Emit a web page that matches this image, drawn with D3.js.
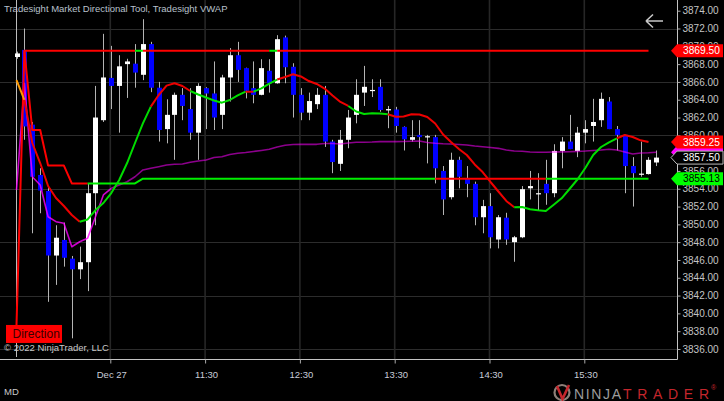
<!DOCTYPE html>
<html><head><meta charset="utf-8">
<script src="https://cdn.jsdelivr.net/npm/d3@7"></script>
<style>
html,body{margin:0;padding:0;background:#000;}
svg{display:block;}
text{font-family:"Liberation Sans",Arial,sans-serif;}
</style></head><body>
<svg id="chart" width="724" height="401"></svg>
<script>
// ---------- DATA ----------
const title = "Tradesight Market Directional Tool, Tradesight VWAP";
const xTickBars = [12, 24, 36, 48, 60, 72];
const xTickLabels = ["Dec 27", "11:30", "12:30", "13:30", "14:30", "15:30"];
const yTickValues = [3836,3838,3840,3842,3844,3846,3848,3850,3852,3854,3856,3858,3860,3862,3864,3866,3868,3870,3872,3874];
const yGridValues = [3836,3842,3848,3854,3860,3866,3872];

const opens = [3868.8,3869.6,3861.2,3855.55,3853.75,3846.5,3848.25,3846.15,3844.95,3845.75,
3853.5,3861.7,3866.45,3865.55,3868.0,3868.05,3866.8,3870.25,3865.35,3860.7,
3862.3,3864.55,3862.95,3860.3,3865.3,3864.7,3862.3,3866.5,3869.0,3867.55,
3865.3,3864.55,3867.25,3865.85,3871.0,3867.7,3864.55,3862.55,3863.5,3864.55,
3859.3,3856.8,3859.5,3862.3,3864.8,3865.0,3865.45,3862.8,3862.9,3860.95,
3859.5,3860.05,3859.9,3859.8,3856.0,3853.05,3857.25,3855.15,3854.55,3850.8,
3852.05,3848.3,3850.75,3848.0,3848.55,3854.05,3853.5,3854.55,3853.5,3858.25,
3859.3,3858.25,3860.3,3861.05,3861.7,3863.8,3860.7,3860.05,3856.55,3855.6,
3855.65,3856.95];
const highs = [3869.4,3872.0,3861.5,3856.3,3854.2,3849.9,3850.2,3846.45,3847.5,3854.6,
3865.55,3871.4,3870.05,3869.0,3868.6,3870.25,3873.05,3870.5,3866.0,3864.05,
3864.8,3865.3,3865.3,3865.85,3865.4,3868.3,3866.8,3869.8,3870.5,3867.6,
3868.3,3868.55,3868.55,3871.25,3871.2,3868.1,3865.3,3864.8,3865.3,3865.55,
3859.5,3860.6,3862.85,3866.3,3867.8,3866.3,3866.3,3863.3,3863.2,3861.0,
3861.7,3861.7,3860.05,3860.05,3856.55,3858.05,3857.6,3856.55,3854.8,3852.75,
3853.5,3851.05,3851.3,3848.7,3854.3,3856.0,3855.75,3857.25,3859.0,3859.8,
3862.3,3860.95,3861.7,3864.1,3864.8,3864.3,3861.05,3860.05,3857.55,3859.3,
3857.55,3858.3];
const lows = [3868.6,3859.5,3849.0,3851.25,3841.3,3843.2,3845.25,3837.2,3843.85,3842.5,
3849.9,3861.5,3862.95,3860.3,3864.2,3865.35,3866.2,3864.85,3859.3,3859.1,
3857.25,3861.7,3859.5,3857.25,3860.7,3860.6,3860.7,3863.8,3866.0,3864.15,
3863.6,3864.5,3864.8,3865.8,3865.85,3862.0,3861.7,3861.7,3862.95,3858.7,
3855.75,3856.0,3858.55,3861.35,3863.3,3864.3,3862.65,3860.8,3860.3,3858.3,
3859.3,3858.55,3856.85,3854.6,3851.05,3852.8,3854.05,3853.05,3849.9,3849.0,
3847.3,3847.3,3847.7,3845.8,3848.45,3852.8,3851.6,3852.2,3853.05,3856.3,
3858.45,3857.55,3859.1,3859.3,3860.95,3860.7,3858.3,3853.5,3852.0,3855.35,
3855.6,3856.55];
const closes = [3869.2,3861.0,3855.35,3853.8,3846.5,3848.5,3846.25,3844.95,3845.75,3853.5,
3862.0,3866.5,3865.55,3867.75,3868.3,3867.05,3870.25,3865.35,3860.6,3862.3,
3864.55,3863.3,3860.3,3865.55,3864.7,3862.0,3866.5,3869.0,3867.35,3865.0,
3864.55,3867.55,3865.85,3870.8,3867.65,3864.55,3862.55,3863.85,3864.55,3859.3,
3857.0,3859.5,3862.0,3864.55,3865.45,3865.1,3862.85,3862.95,3861.05,3859.55,
3859.8,3859.8,3859.9,3856.3,3852.8,3857.25,3855.35,3854.55,3850.8,3852.05,
3848.55,3850.8,3848.3,3848.55,3853.95,3854.3,3853.5,3853.5,3858.25,3859.3,
3858.45,3860.3,3860.7,3861.5,3864.1,3860.7,3860.05,3856.55,3855.75,3855.7,
3857.25,3857.5];

// Directional tool: trend line (smooth)
const trendLine = [3866.2,3863.97,3859.14,3856.89,3854.31,3852.96,3852.06,3851.05,3850.30,3850.55,
3851.61,3852.40,3853.52,3854.98,3856.89,3859.14,3861.35,3863.22,3864.53,3865.58,
3865.85,3865.54,3864.98,3864.59,3864.25,3863.91,3863.67,3863.97,3864.48,3864.90,
3864.90,3865.28,3865.82,3866.27,3866.55,3866.86,3866.61,3866.10,3865.77,3865.26,
3864.48,3863.75,3863.30,3862.68,3862.40,3862.48,3862.45,3862.37,3862.09,3862.12,
3862.36,3862.34,3862.06,3861.33,3860.09,3859.25,3858.47,3857.79,3856.73,3855.88,
3854.76,3853.69,3852.63,3851.92,3851.95,3851.69,3851.58,3851.50,3852.21,3852.93,
3853.97,3855.04,3856.33,3857.79,3858.69,3859.22,3859.67,3860.04,3859.81,3859.44,
3859.25];
// Directional tool: stop / level line
const levelLine = [null,3869.5,3860.6,3860.6,3856.6,3856.6,3856.6,3854.6,3854.6,3854.6,
3854.6,3854.6,3854.6,3854.6,3854.6,3854.6,3855.13,3855.13,3855.13,3855.13,
3855.13,3855.13,3855.13,3855.13,3855.13,3855.13,3855.13,3855.13,3855.13,3855.13,
3855.13,3855.13,3855.13,3855.13,3855.13,3855.13,3855.13,3855.13,3855.13,3855.13,
3855.13,3855.13,3855.13,3855.13,3855.13,3855.13,3855.13,3855.13,3855.13,3855.13,
3855.13,3855.13,3855.13,3855.13,3855.13,3855.13,3855.13,3855.13,3855.13,3855.13,
3855.13,3855.13,3855.13,3855.13,3855.13,3855.13,3855.13,3855.13,3855.13,3855.13,
3855.13,3855.13,3855.13,3855.13,3855.13,3855.13,3855.13,3855.13,3855.13,3855.13,
3855.13];
// Directional tool: direction line
const directionLine = [3838.7,3869.5,3869.5,3869.5,3869.5,3869.5,3869.5,3869.5,3869.5,3869.5,
3869.5,3869.5,3869.5,3869.5,3869.5,3869.5,3869.5,3869.5,3869.5,3869.5,
3869.5,3869.5,3869.5,3869.5,3869.5,3869.5,3869.5,3869.5,3869.5,3869.5,
3869.5,3869.5,3869.5,3869.5,3869.5,3869.5,3869.5,3869.5,3869.5,3869.5,
3869.5,3869.5,3869.5,3869.5,3869.5,3869.5,3869.5,3869.5,3869.5,3869.5,
3869.5,3869.5,3869.5,3869.5,3869.5,3869.5,3869.5,3869.5,3869.5,3869.5,
3869.5,3869.5,3869.5,3869.5,3869.5,3869.5,3869.5,3869.5,3869.5,3869.5,
3869.5,3869.5,3869.5,3869.5,3869.5,3869.5,3869.5,3869.5,3869.5,3869.5,
3869.5];
// VWAP
const vwap = [3853.86,3865.85,3855.35,3854.42,3850.86,3850.30,3850.12,3847.49,3848.05,3848.44,
3850.86,3853.30,3854.05,3854.42,3854.79,3855.35,3856.11,3856.30,3856.48,3856.67,
3856.75,3856.78,3856.97,3857.12,3857.23,3857.51,3857.60,3857.85,3857.98,3858.07,
3858.19,3858.30,3858.43,3858.69,3858.88,3858.97,3858.99,3858.99,3858.99,3859.08,
3859.08,3859.03,3859.14,3859.22,3859.23,3859.25,3859.29,3859.29,3859.29,3859.31,
3859.34,3859.36,3859.20,3859.11,3859.06,3859.03,3858.97,3858.92,3858.80,3858.72,
3858.63,3858.54,3858.35,3858.24,3858.21,3858.13,3858.10,3858.10,3858.13,3858.14,
3858.16,3858.20,3858.24,3858.30,3858.35,3858.43,3858.35,3858.13,3857.90,3858.02,
3858.05,3858.10];

// colour runs [fromBar, toBar, colour]
const trendRuns = [[0,1,"#ff9900"],[1,8,"#ee0000"],[8,17,"#00dd00"],[17,22,"#ee0000"],[22,29,"#00dd00"],
  [29,30,"#ee0000"],[30,33,"#00dd00"],[33,42,"#ee0000"],[42,47,"#00dd00"],[47,63,"#ee0000"],
  [63,76,"#00dd00"],[76,80,"#ee0000"]];
const levelRuns = [[1,9,"#ff0000"],[9,53,"#00ee00"],[53,67,"#ff0000"],[67,80,"#00ee00"]];
const directionRuns = [[0,15,"#ff0000"],[15,16,"#00ee00"],[16,32,"#ff0000"],[32,33,"#00ee00"],[33,80,"#ff0000"]];
const vwapRuns = [[0,12,"#ff00ff",0.8],[12,81,"#ff00ff",0.55]];

// ---------- CHART ----------
const W = 724, H = 401, plotR = 677, plotB = 359;
const svg = d3.select("#chart");
svg.append("rect").attr("width", W).attr("height", H).attr("fill", "#000");

const nBars = closes.length;
const x = d3.scaleLinear().domain([0, nBars - 1]).range([16.5, 656.4]);
const y = d3.scaleLinear().domain([3836, 3874]).range([349, 10.7]);

svg.append("defs").append("clipPath").attr("id", "plotclip")
  .append("rect").attr("x", 0).attr("y", 0).attr("width", plotR).attr("height", plotB);
const plot = svg.append("g").attr("clip-path", "url(#plotclip)");

// grid
plot.append("g").selectAll("line").data(yGridValues).join("line")
  .attr("x1", 0).attr("x2", plotR).attr("y1", d => Math.round(y(d)) + 0.5).attr("y2", d => Math.round(y(d)) + 0.5)
  .attr("stroke", "#2c2c2c").attr("stroke-width", 1);
plot.append("g").selectAll("line").data(xTickBars).join("line")
  .attr("x1", d => x(d) - 1).attr("x2", d => x(d) - 1).attr("y1", 0).attr("y2", plotB)
  .attr("stroke", "#262626").attr("stroke-width", 1.6);

// title
svg.append("text").attr("x", 4).attr("y", 12).attr("font-size", 9.5).attr("fill", "#b9c0cc").text(title);

// session break line
plot.append("line").attr("x1", x(0)).attr("x2", x(0)).attr("y1", 0).attr("y2", plotB - 2)
  .attr("stroke", "#bdbdbd").attr("stroke-width", 1);

// candles
const bars = d3.range(nBars).map(i => ({i, o: opens[i], h: highs[i], l: lows[i], c: closes[i]}));
const cg = plot.append("g");
cg.selectAll("line.wick").data(bars).join("line").attr("class", "wick")
  .attr("x1", d => Math.round(x(d.i)) + 0.5).attr("x2", d => Math.round(x(d.i)) + 0.5)
  .attr("y1", d => y(d.h)).attr("y2", d => y(d.l))
  .attr("stroke", "#b4b4b4").attr("stroke-width", 1);
cg.selectAll("rect.body").data(bars).join("rect").attr("class", "body")
  .attr("x", d => Math.round(x(d.i)) + 0.5 - 2.5).attr("width", 5)
  .attr("y", d => Math.min(y(d.o), y(d.c)))
  .attr("height", d => Math.max(1.2, Math.abs(y(d.o) - y(d.c))))
  .attr("fill", d => d.c >= d.o ? "#ffffff" : "#0000ff");

// segmented lines
const segLine = d3.line().x(d => x(d.i)).y(d => y(d.v));
function drawRuns(values, runs, width) {
  const g = plot.append("g");
  runs.forEach(([a, b, col, op]) => {
    const pts = d3.range(a, b + 1).map(i => ({i, v: values[i]})).filter(p => p.v != null);
    g.append("path").attr("d", segLine(pts)).attr("fill", "none")
      .attr("stroke", col).attr("stroke-width", width).attr("stroke-opacity", op == null ? 1 : op)
      .attr("stroke-linejoin", "round");
  });
}
drawRuns(vwap, vwapRuns, 1.6);
drawRuns(levelLine, levelRuns, 2);
drawRuns(directionLine, directionRuns, 2);
drawRuns(trendLine, trendRuns, 2);

// frame
svg.append("line").attr("x1", plotR + 0.5).attr("x2", plotR + 0.5).attr("y1", 0).attr("y2", plotB + 0.5)
  .attr("stroke", "#c4c4c4");
svg.append("line").attr("x1", 0).attr("x2", plotR + 0.5).attr("y1", plotB + 0.5).attr("y2", plotB + 0.5)
  .attr("stroke", "#c4c4c4");

// right axis
const yAxis = svg.append("g").attr("transform", `translate(${plotR + 0.5},0)`)
  .call(d3.axisRight(y).tickValues(yTickValues).tickFormat(d3.format(".2f")).tickSize(3).tickPadding(2));
yAxis.select(".domain").remove();
yAxis.selectAll("line").attr("stroke", "#aaaaaa");
yAxis.selectAll("text").attr("fill", "#c4c4c4").attr("font-size", 10)
  .attr("font-family", "'Liberation Sans', Arial, sans-serif");

// bottom axis
const xAxis = svg.append("g").attr("transform", `translate(0,${plotB + 0.5})`)
  .call(d3.axisBottom(x).tickValues(xTickBars).tickFormat((d, i) => xTickLabels[i]).tickSize(4).tickPadding(7.5));
xAxis.select(".domain").remove();
xAxis.selectAll("line").attr("stroke", "#aaaaaa").attr("transform", "translate(-1,0)");
xAxis.selectAll("text").attr("fill", "#c8ccd8").attr("font-size", 9.5)
  .attr("font-family", "'Liberation Sans', Arial, sans-serif");

// price tags
function priceTag(v, fill, txtFill, stroke, showText) {
  const cy = y(v);
  const g = svg.append("g");
  g.append("path")
    .attr("d", `M${plotR - 6},${cy} L${plotR},${cy - 6.5} L723,${cy - 6.5} L723,${cy + 6.5} L${plotR},${cy + 6.5} Z`)
    .attr("fill", fill).attr("stroke", stroke || "none").attr("stroke-width", 1);
  if (showText !== false) {
    g.append("text").attr("x", 683).attr("y", cy + 3.6).attr("font-size", 10.2).attr("fill", txtFill)
      .text(d3.format(".2f")(v));
  }
}
priceTag(vwap[vwap.length - 1], "#ff00ff", "#ffffff", null, false);
priceTag(directionLine[directionLine.length - 1], "#ff0000", "#ffffff");
priceTag(trendLine[trendLine.length - 1], "#ff0000", "#ffffff");
priceTag(closes[closes.length - 1], "#000000", "#ffffff", "#bbbbbb");
priceTag(levelLine[levelLine.length - 1], "#00ff00", "#000000");

// Direction label at start of direction line
const dy0 = y(directionLine[0]);
svg.append("rect").attr("x", 6).attr("y", dy0).attr("width", 56).attr("height", 18).attr("fill", "#ff0000");
svg.append("text").attr("x", 12.5).attr("y", dy0 + 13.5).attr("font-size", 12).attr("fill", "#3a0000").text("Direction");

// copyright & footer
svg.append("text").attr("x", 4).attr("y", 351).attr("font-size", 9.5).attr("fill", "#c8c8c8").text("© 2022 NinjaTrader, LLC");
svg.append("text").attr("x", 4).attr("y", 394.5).attr("font-size", 9.5).attr("fill", "#c8c8c8").text("MD");

// back arrow
svg.append("path").attr("d", "M663,21 H646 M646,21 L653,14.5 M646,21 L653,27.5")
  .attr("fill", "none").attr("stroke", "#c8c8c8").attr("stroke-width", 1.6);

// NinjaTrader logo
const logo = svg.append("g");
logo.append("circle").attr("cx", 562).attr("cy", 392.5).attr("r", 7.5).attr("fill", "none")
  .attr("stroke", "#8e7f78").attr("stroke-width", 2.2);
logo.append("path").attr("d", "M557,386 L562.5,399 L569,385").attr("fill", "none")
  .attr("stroke", "#c4262c").attr("stroke-width", 2.6);
logo.append("text").attr("x", 574).attr("y", 399).attr("font-size", 14).attr("font-weight", 300)
  .attr("font-family", "'Open Sans', 'Liberation Sans', sans-serif")
  .attr("textLength", 47).attr("lengthAdjust", "spacing").attr("fill", "#9c9c9c").text("NINJA");
logo.append("text").attr("x", 623).attr("y", 399).attr("font-size", 14).attr("font-weight", 300)
  .attr("font-family", "'Open Sans', 'Liberation Sans', sans-serif")
  .attr("textLength", 86).attr("lengthAdjust", "spacing").attr("fill", "#c4262c").text("TRADER");
logo.append("text").attr("x", 711).attr("y", 390).attr("font-size", 7).attr("fill", "#c4262c").text("®");
</script>
</body></html>
